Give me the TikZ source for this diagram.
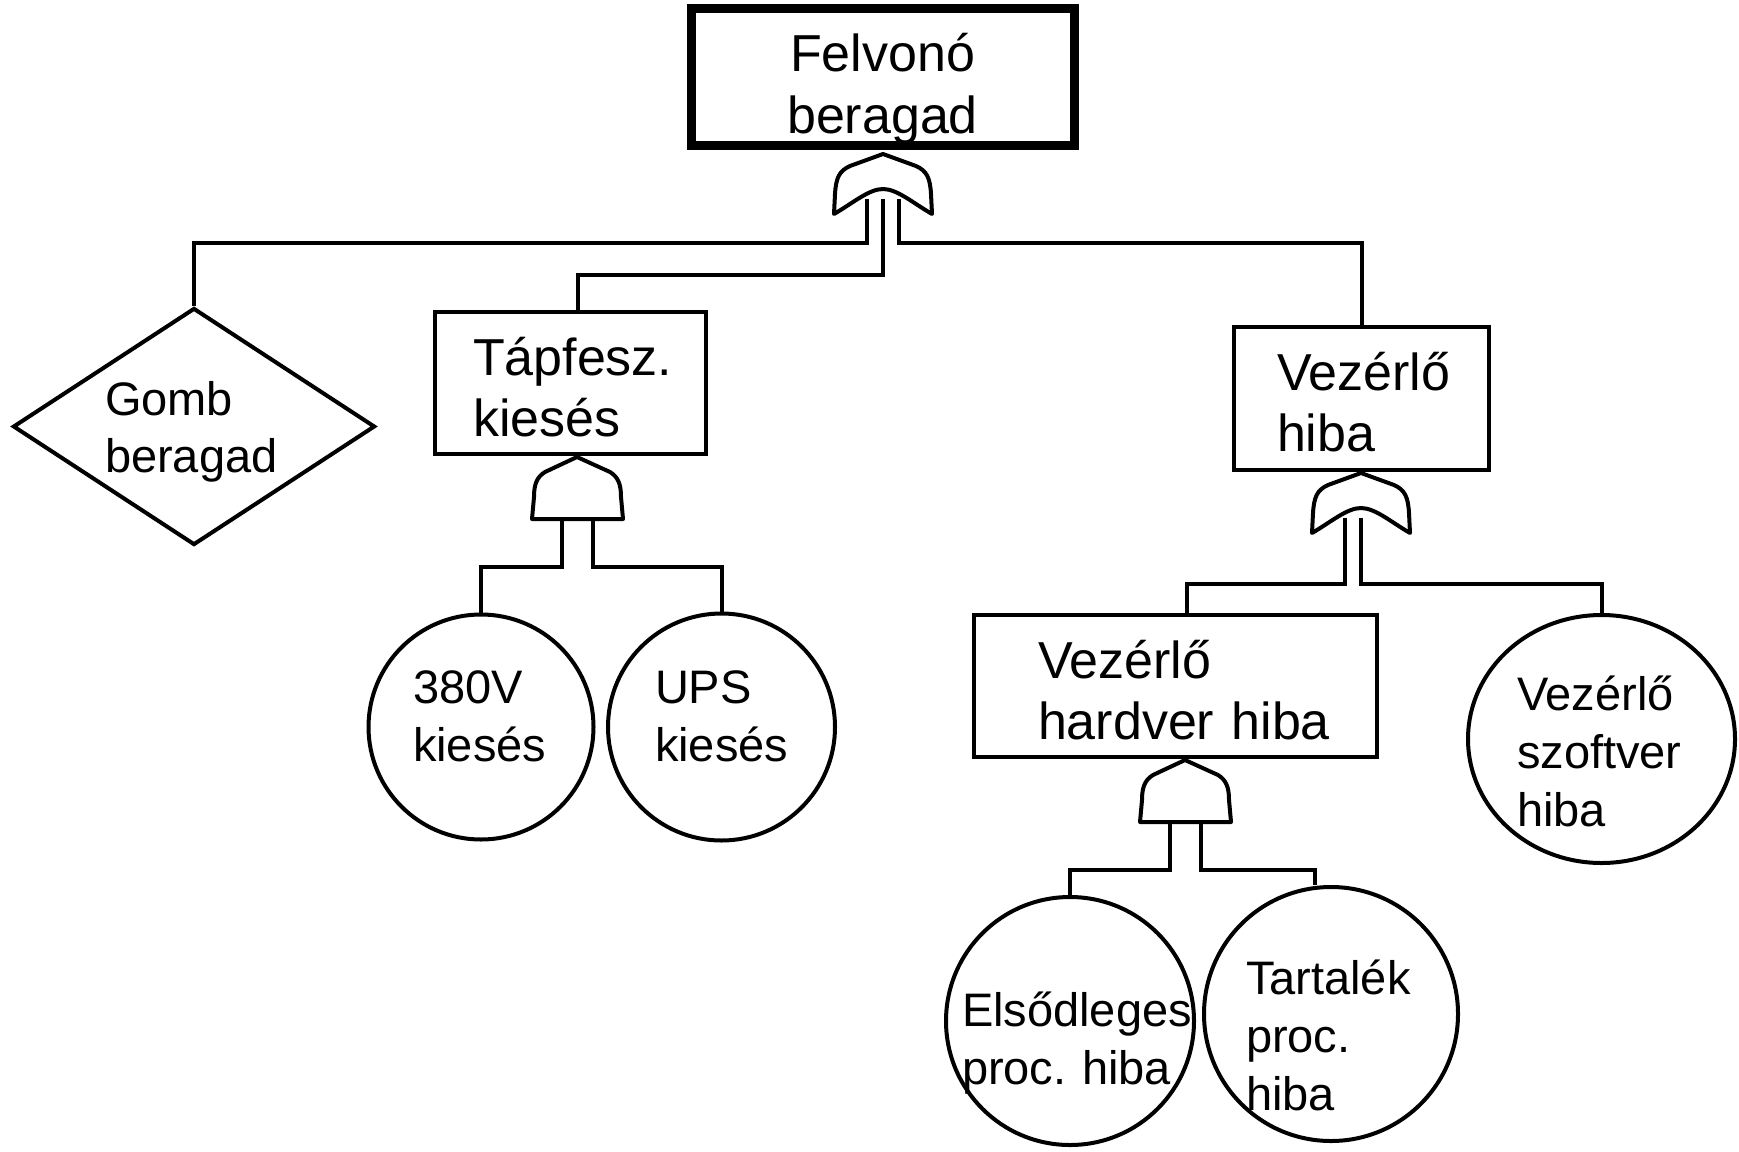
\documentclass[tikz,border=0pt]{standalone}
\usepackage{fontspec}
\setmainfont{Liberation Sans}
\usepackage{tikz}
\usetikzlibrary{shapes.geometric}

\tikzset{
  andgate/.pic={
    \draw[gate] (0,0) -- (-32,15) .. controls (-40,20) and (-43,27) .. (-43,40)
      -- (-45,62) -- (46,62) -- (44,40) .. controls (44,27) and (41,20) .. (33,15) -- cycle;
    \coordinate (-a) at (-15,62);
    \coordinate (-b) at (16,62);
  },
  orgate/.pic={
    \draw[gate] (0,0) -- (-33,12) .. controls (-44,17) and (-47,24) .. (-48,40)
      -- (-49,60) .. controls (-30,49) and (-14,35) .. (0,35)
      .. controls (14,35) and (30,49) .. (49,60)
      -- (48,40) .. controls (47,24) and (44,17) .. (33,12) -- cycle;
    \coordinate (-a) at (-16,45);
    \coordinate (-b) at (0,45);
    \coordinate (-c) at (16,45);
  }
}

\begin{document}
\begin{tikzpicture}[x=1pt,y=-1pt,line width=4pt,
  event/.style={draw, rectangle, inner sep=0pt, align=left,
    font=\fontsize{52}{61}\selectfont},
  basic/.style={draw, circle, inner sep=0pt, align=left,
    font=\fontsize{47}{58}\selectfont},
  undev/.style={draw, diamond, inner sep=0pt, align=left,
    font=\fontsize{47}{57}\selectfont},
  gate/.style={line join=round},
  wire/.style={line join=miter}]

\useasboundingbox (0,0) rectangle (1739,1151);

%% events
\node[event, line width=9pt, minimum width=383pt, minimum height=137pt, text width=300pt,
  align=center, text height=63pt, text depth=74pt, font=\fontsize{52}{62}\selectfont]
  (felvono) at (882.5,76.5) {Felvonó\\beragad};                                       %% top
\node[event, minimum width=271pt, minimum height=142pt, text width=195pt,
  text height=63pt, text depth=79pt] (tapfesz) at (570.5,383) {Tápfesz.\\kiesés};
\node[event, minimum width=255pt, minimum height=143pt, text width=169pt,
  text height=63pt, text depth=80pt] (vezerlo) at (1361.5,398.5) {Vezérlő\\hiba};
\node[event, minimum width=403pt, minimum height=142pt, text width=275pt,
  text height=63pt, text depth=79pt] (hardver) at (1175.5,686) {Vezérlő\\hardver~hiba};

%% undeveloped event
\node[undev, minimum width=362pt, minimum height=237pt, text width=178pt,
  text height=15pt, text depth=38pt] (gomb) at (194,426.5) {Gomb\\beragad};

%% basic events
\node[basic, minimum size=225pt, text width=136pt, text height=20pt, text depth=68pt]
  (v380) at (481,727) {380V\\kiesés};
\node[basic, minimum size=227pt, text width=133pt, text height=20pt, text depth=68pt]
  (ups) at (721.5,727) {UPS\\kiesés};
\node[basic, ellipse, minimum width=267pt, minimum height=248pt, text width=169pt,
  text height=10pt, text depth=68pt] (szoftver) at (1601.5,739) {Vezérlő\\szoftver\\hiba};
\node[basic, minimum size=248pt, text width=216pt, text height=40pt, text depth=30pt]
  (elsodl) at (1070,1021) {Elsődleges\\proc.~hiba};
\node[basic, minimum size=254pt, text width=170pt, text height=24pt, text depth=64pt]
  (tartalek) at (1331,1014) {Tartalék\\proc.\\hiba};

%% gates
\pic (topor) at (883,154) {orgate};
\pic (tapand) at (577,457) {andgate};
\pic (vezor) at (1361,473) {orgate};
\pic (hwand) at (1185,760) {andgate};

%% connections
\draw[wire] (topor-a) -- ++(0,44) -| (gomb.north);                      %% gomb
\draw[wire] (topor-b) -- ++(0,76) -| ([xshift=7pt]tapfesz.north);       %% tapfesz
\draw[wire] (topor-c) -- ++(0,44) -| (vezerlo.north);                   %% vezerlo
\draw[wire] (tapand-a) -- ++(0,48) -| (v380.north);                     %% 380V
\draw[wire] (tapand-b) -- ++(0,48) -| (ups.north);                      %% UPS
\draw[wire] (vezor-a) -- ++(0,66) -| ([xshift=11.5pt]hardver.north);    %% hardver
\draw[wire] (vezor-b) -- ++(0,66) -| (szoftver.north);                  %% szoftver
\draw[wire] (hwand-a) -- ++(0,48) -| (elsodl.north);                    %% elsodleges
\draw[wire] (hwand-b) -- ++(0,48) -| ([xshift=-16pt]tartalek.north);    %% tartalek
\end{tikzpicture}
\end{document}
